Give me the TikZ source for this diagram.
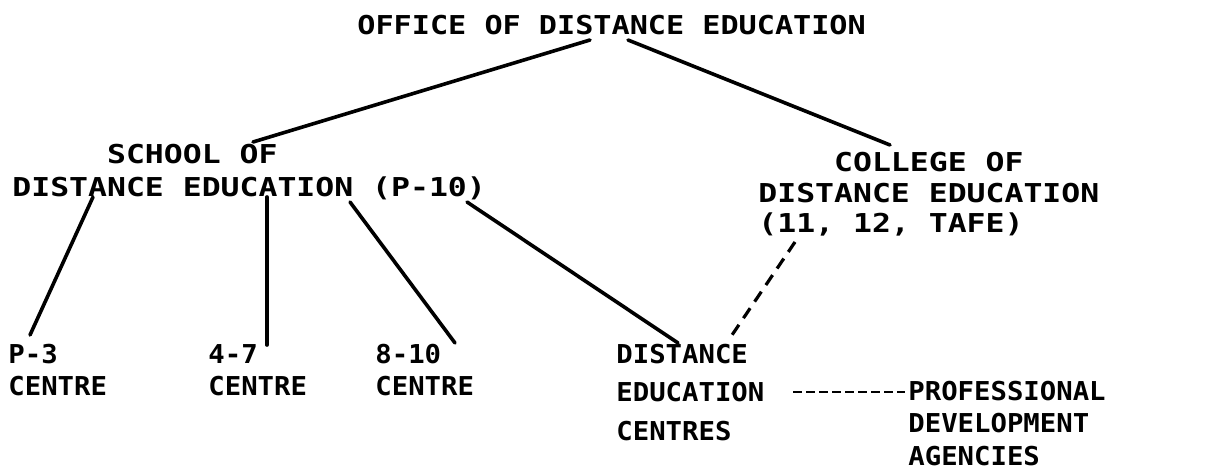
\documentclass[tikz,border=0pt]{standalone}
\usepackage{fontspec}
\newfontfamily\plotfont{DejaVu Sans Mono}[FakeStretch=1.21]
\newfontfamily\plottitle{DejaVu Sans Mono}[FakeStretch=1.16]
\newfontfamily\plotnarrow{DejaVu Sans Mono}[FakeStretch=1.05]
\tikzset{
  entry/.style={anchor=base west, inner sep=0pt, align=left, font=\fontsize{13}{#1}\selectfont\plotfont\bfseries},
  entry/.default=16pt,
  narrow/.style={font=\fontsize{13}{#1}\selectfont\plotnarrow\bfseries},
  narrow/.default=16pt,
  link/.style={line width=1.8pt, line cap=round},
  dlink/.style={line width=1.6pt, dash pattern=on 6pt off 4pt},
  hlink/.style={line width=1.4pt, dash pattern=on 4.5pt off 2pt}
}
\begin{document}
\begin{tikzpicture}[x=0.5pt, y=-0.5pt]
\useasboundingbox (0,0) rectangle (1214,470);
% top level
\node[entry, font=\fontsize{13}{16}\selectfont\plottitle\bfseries] (office) at (357,35) {OFFICE OF DISTANCE EDUCATION};
\node[entry=16.5pt] (school) at (12,197) {\phantom{XXXXX}SCHOOL OF\\DISTANCE EDUCATION (P-10)};
\node[entry=15.25pt] (college) at (758,233) {\phantom{XXXX}COLLEGE OF\\DISTANCE EDUCATION\\(11, 12, TAFE)};
% centres
\node[entry, narrow] (pthree) at (8,395) {P-3\\CENTRE};
\node[entry, narrow] (fourseven) at (208,395) {4-7\\CENTRE};
\node[entry, narrow] (eightten) at (375,395) {8-10\\CENTRE};
\node[entry, narrow=19.25pt] (decentres) at (616,440) {DISTANCE\\EDUCATION\\CENTRES};
\node[entry, narrow=16.25pt] (profdev) at (908,465) {PROFESSIONAL\\DEVELOPMENT\\AGENCIES};
% connectors
\draw[link] ([shift={(233,5)}]office.base west) -- ([shift={(241,-55)}]school.base west);
\draw[link] ([shift={(271,5)}]office.base west) -- ([shift={(132,-88)}]college.base west);
\draw[link] ([shift={(81,0)}]school.base west) -- ([shift={(22,-60)}]pthree.base west);
\draw[link] ([shift={(255,0)}]school.base west) -- ([shift={(59,-50)}]fourseven.base west);
\draw[link] ([shift={(338,5)}]school.base west) -- ([shift={(80,-52)}]eightten.base west);
\draw[link] ([shift={(455,5)}]school.base west) -- ([shift={(62,-97)}]decentres.base west);
\draw[dlink] ([shift={(37,9)}]college.base west) -- ([shift={(114,-102)}]decentres.base west);
\draw[hlink] ([shift={(177,-48)}]decentres.base west) -- ([shift={(-3,-73)}]profdev.base west);
\end{tikzpicture}
\end{document}
